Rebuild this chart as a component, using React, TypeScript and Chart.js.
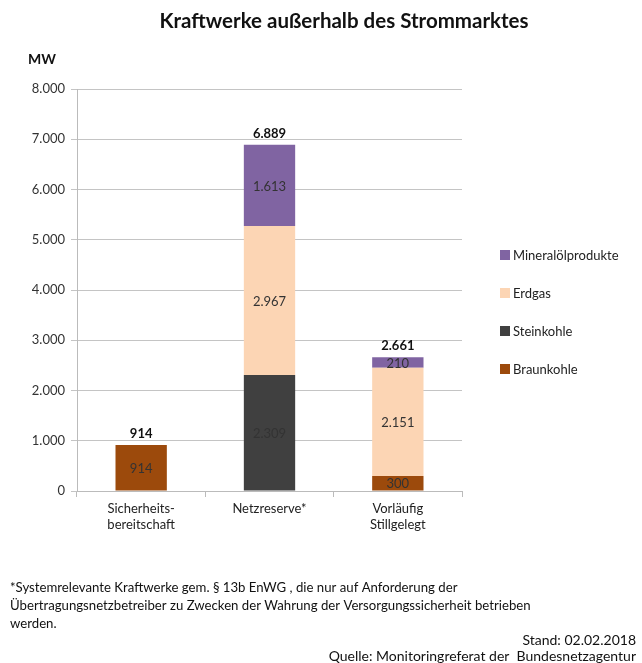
import React, { useEffect, useRef } from "react";
import { Chart, registerables } from "chart.js";

Chart.register(...registerables);

const categories: (string | string[])[] = [["Sicherheits-", "bereitschaft"], "Netzreserve*", ["Vorläufig", "Stillgelegt"]];
const braunkohle = [914, 0, 300];
const steinkohle = [0, 2309, 0];
const erdgas = [0, 2967, 2151];
const mineraloel = [0, 1613, 210];
const yTicks = [0, 1000, 2000, 3000, 4000, 5000, 6000, 7000, 8000];

const titleText = "Kraftwerke außerhalb des Strommarktes";
const unitText = "MW";
const footnoteLines = [
  "*Systemrelevante Kraftwerke gem. § 13b EnWG , die nur auf Anforderung der",
  "Übertragungsnetzbetreiber zu Zwecken der Wahrung der Versorgungssicherheit betrieben",
  "werden.",
];
const standText = "Stand: 02.02.2018";
const quelleText = "Quelle: Monitoringreferat der  Bundesnetzagentur";

const FONT = "Lato, 'Open Sans', sans-serif";

function fmt(v: number): string {
  const s = Math.round(v).toString();
  return s.replace(/\B(?=(\d{3})+(?!\d))/g, ".");
}

const decorPlugin = {
  id: "decor",
  afterDraw(chart: any) {
    const ctx = chart.ctx;
    ctx.save();
    // title
    ctx.fillStyle = "#111";
    ctx.font = `bold 20.5px ${FONT}`;
    ctx.textAlign = "center";
    ctx.textBaseline = "middle";
    ctx.fillText(titleText, 344, 21);
    // unit
    ctx.font = `bold 14px ${FONT}`;
    ctx.textAlign = "left";
    ctx.fillText(unitText, 28, 59);

    // segment labels
    const datasets = chart.data.datasets;
    ctx.font = `13px ${FONT}`;
    ctx.textAlign = "center";
    ctx.fillStyle = "#333";
    datasets.forEach((ds: any, di: number) => {
      const meta = chart.getDatasetMeta(di);
      meta.data.forEach((el: any, i: number) => {
        const v = ds.data[i];
        if (!v) return;
        const y = (el.y + el.base) / 2;
        ctx.fillText(fmt(v), el.x, y + 1);
      });
    });
    // totals
    ctx.font = `bold 13px ${FONT}`;
    ctx.fillStyle = "#111";
    const n = chart.data.labels.length;
    for (let i = 0; i < n; i++) {
      let sum = 0;
      datasets.forEach((ds: any) => (sum += ds.data[i] || 0));
      const x = chart.getDatasetMeta(0).data[i].x;
      const y = chart.scales.y.getPixelForValue(sum);
      ctx.fillText(fmt(sum), x, y - 11);
    }

    // legend (reverse order)
    ctx.font = `13px ${FONT}`;
    ctx.textAlign = "left";
    const order = [...datasets].reverse();
    order.forEach((ds: any, k: number) => {
      const cy = 255 + k * 38;
      ctx.fillStyle = ds.backgroundColor;
      ctx.fillRect(500, cy - 5, 10, 10);
      ctx.fillStyle = "#222";
      ctx.fillText(ds.label, 513, cy + 1);
    });

    // footnotes
    ctx.font = `13.2px ${FONT}`;
    ctx.fillStyle = "#111";
    footnoteLines.forEach((line, k) => {
      ctx.fillText(line, 10, 588 + k * 18);
    });
    ctx.font = `14px ${FONT}`;
    ctx.textAlign = "right";
    ctx.fillText(standText, 636, 640);
    ctx.fillText(quelleText, 636, 656);
    ctx.restore();
  },
};

export default function App() {
  const ref = useRef<HTMLCanvasElement | null>(null);
  useEffect(() => {
    if (!ref.current) return;
    const chart = new Chart(ref.current, {
      type: "bar",
      data: {
        labels: categories,
        datasets: [
          { label: "Braunkohle", data: braunkohle, backgroundColor: "#9C4A0C" },
          { label: "Steinkohle", data: steinkohle, backgroundColor: "#404040" },
          { label: "Erdgas", data: erdgas, backgroundColor: "#FCD5B4" },
          { label: "Mineralölprodukte", data: mineraloel, backgroundColor: "#8064A2" },
        ],
      },
      options: {
        responsive: false,
        animation: false,
        devicePixelRatio: 1,
        layout: { padding: { top: 89, left: 0, right: 180, bottom: 0 } },
        datasets: { bar: { barPercentage: 0.4, categoryPercentage: 1 } },
        plugins: {
          legend: { display: false },
          title: { display: false },
          tooltip: { enabled: false },
        },
        scales: {
          x: {
            stacked: true,
            grid: { display: true, offset: true, drawOnChartArea: false, color: "#bbb", tickLength: 6, tickColor: "#bbb" },
            border: { display: true, color: "#bbb" },
            ticks: { color: "#222", font: { family: FONT, size: 13 }, padding: 4, maxRotation: 0, autoSkip: false },
            afterFit: (s: any) => { s.height = 172; },
          },
          y: {
            stacked: true,
            min: 0,
            max: 8000,
            afterBuildTicks: (s: any) => { s.ticks = yTicks.map((v) => ({ value: v })); },
            grid: { color: "#c4c4c4", drawTicks: true, tickLength: 6, tickColor: "#c4c4c4" },
            border: { display: true, color: "#bbb" },
            ticks: { color: "#333", font: { family: FONT, size: 13 }, padding: 6, callback: (v: any) => fmt(Number(v)) },
            afterFit: (s: any) => { s.width = 77; },
          },
        },
      },
      plugins: [decorPlugin],
    });
    return () => chart.destroy();
  }, []);
  return (
    <div style={{ position: "absolute", left: 0, top: 0, width: 642, height: 663, background: "#fff" }}>
      <canvas ref={ref} width={642} height={663} style={{ display: "block" }} />
    </div>
  );
}
